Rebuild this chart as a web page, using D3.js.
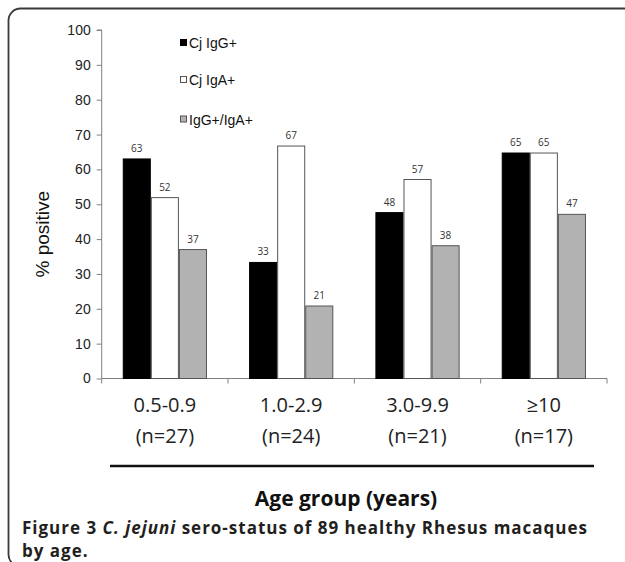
<!DOCTYPE html>
<html>
<head>
<meta charset="utf-8">
<script src="https://cdn.jsdelivr.net/npm/d3@7"></script>
<style>
  html, body { margin: 0; padding: 0; background: #fff; }
  svg { display: block; }
</style>
</head>
<body>
<svg id="chart" width="625" height="562"></svg>
<script>
// ---- data ----
const categories = ["0.5-0.9", "1.0-2.9", "3.0-9.9", "≥10"];
const categoryN = ["(n=27)", "(n=24)", "(n=21)", "(n=17)"];
const seriesNames = ["Cj IgG+", "Cj IgA+", "IgG+/IgA+"];
const igG = [63.0, 33.3, 47.6, 64.7];
const igA = [51.9, 66.7, 57.1, 64.7];
const both = [37.0, 20.8, 38.1, 47.1];
const yTicks = [0, 10, 20, 30, 40, 50, 60, 70, 80, 90, 100];
const yTitle = "% positive";
const xTitle = "Age group (years)";

const seriesValues = [igG, igA, both];
const fills = ["#000000", "#ffffff", "#b2b2b2"];
const strokes = ["#000000", "#555555", "#555555"];

const svg = d3.select("#chart");

// frame
svg.append("rect")
  .attr("x", 8.5).attr("y", 8.5)
  .attr("width", 700).attr("height", 558)
  .attr("rx", 12).attr("ry", 12)
  .attr("fill", "none").attr("stroke", "#3a3a3a").attr("stroke-width", 1.8);

// scales
const x = d3.scaleBand().domain(categories).range([101.7, 607]).paddingInner(0).paddingOuter(0);
const bw = x.bandwidth();
const gap = bw / 6;
const xs = d3.scaleBand().domain(seriesNames).range([gap, bw - gap]).padding(0);
const y = d3.scaleLinear().domain([0, 100]).range([378.5, 30]);

// y axis
const yAxis = d3.axisLeft(y).tickValues(yTicks).tickSize(5).tickPadding(6);
const gy = svg.append("g").attr("transform", "translate(101.7,0)").call(yAxis);
gy.select(".domain").attr("stroke", "#808080").attr("d", `M-5,${y(100)}H0V${y(0) + 5}`);
gy.selectAll(".tick line").attr("stroke", "#808080");
gy.selectAll(".tick text")
  .attr("font-family", "Liberation Sans, Arial, sans-serif")
  .attr("font-size", 14).attr("fill", "#222");

// x axis
const xAxis = d3.axisBottom(x).tickValues([]).tickSize(0);
const gx = svg.append("g").attr("transform", `translate(0,${y(0)})`).call(xAxis);
gx.select(".domain").attr("stroke", "#808080").attr("d", `M101.7,0H607`);
const boundaries = categories.map(c => x(c) + bw);
gx.selectAll("line.bt").data(boundaries).enter().append("line")
  .attr("class", "bt")
  .attr("x1", d => d).attr("x2", d => d)
  .attr("y1", 0).attr("y2", 5)
  .attr("stroke", "#808080");

// bars
const rows = [];
categories.forEach((c, i) => {
  seriesNames.forEach((s, j) => {
    rows.push({ cat: c, s: s, j: j, v: seriesValues[j][i] });
  });
});

const bars = svg.append("g");
bars.selectAll("rect").data(rows).enter().append("rect")
  .attr("x", d => x(d.cat) + xs(d.s) + 0.5)
  .attr("y", d => y(d.v))
  .attr("width", xs.bandwidth() - 1)
  .attr("height", d => y(0) - y(d.v))
  .attr("fill", d => fills[d.j])
  .attr("stroke", d => strokes[d.j])
  .attr("stroke-width", 1);

// data labels
svg.append("g").selectAll("text").data(rows).enter().append("text")
  .attr("x", d => x(d.cat) + xs(d.s) + xs.bandwidth() / 2)
  .attr("y", d => y(d.v) - 7)
  .attr("text-anchor", "middle")
  .attr("font-family", "Open Sans, sans-serif")
  .attr("font-size", 10)
  .attr("fill", "#333")
  .text(d => Math.round(d.v));

// y title
svg.append("text")
  .attr("transform", `translate(49,${(y(0) + y(100)) / 2 + 30}) rotate(-90)`)
  .attr("text-anchor", "middle")
  .attr("font-family", "Liberation Sans, Arial, sans-serif")
  .attr("font-size", 19)
  .attr("fill", "#111")
  .text(yTitle);

// legend
const legendY = [43, 80, 119.5];
const lg = svg.append("g");
seriesNames.forEach((s, j) => {
  lg.append("rect")
    .attr("x", 180.5).attr("y", legendY[j] - 3.5)
    .attr("width", 6).attr("height", 6)
    .attr("fill", fills[j]).attr("stroke", strokes[j]).attr("stroke-width", 1);
  lg.append("text")
    .attr("x", 189).attr("y", legendY[j] + 5)
    .attr("font-family", "Liberation Sans, Arial, sans-serif")
    .attr("font-size", 14).attr("fill", "#111")
    .text(s);
});

// category labels
const cl = svg.append("g")
  .attr("font-family", "Open Sans, sans-serif")
  .attr("font-size", 20).attr("fill", "#222").attr("text-anchor", "middle");
categories.forEach((c, i) => {
  const cx = x(c) + bw / 2;
  cl.append("text").attr("x", cx).attr("y", 412).text(c);
  cl.append("text").attr("x", cx).attr("y", 443).text(categoryN[i]);
});

// separator line
svg.append("line")
  .attr("x1", 110).attr("x2", 594)
  .attr("y1", 466).attr("y2", 466)
  .attr("stroke", "#111").attr("stroke-width", 2.4);

// x title
svg.append("text")
  .attr("x", 346).attr("y", 506)
  .attr("text-anchor", "middle")
  .attr("font-family", "Open Sans, sans-serif")
  .attr("font-weight", "bold")
  .attr("font-size", 21).attr("fill", "#111")
  .text(xTitle);

// caption
const capSize = 17;
const cap = svg.append("text")
  .attr("x", 22).attr("y", 534)
  .attr("font-family", "Open Sans, sans-serif")
  .attr("font-weight", "bold")
  .attr("font-size", capSize).attr("fill", "#231f20");
cap.append("tspan").text("Figure 3 ");
cap.append("tspan").attr("font-style", "italic").text("C. jejuni");
cap.append("tspan").text(" sero-status of 89 healthy Rhesus macaques");
const capText = "Figure 3 C. jejuni sero-status of 89 healthy Rhesus macaques";
const capW = cap.node().getComputedTextLength();
const ls = Math.max(0, (565 - capW) / (capText.length - 1));
cap.attr("letter-spacing", ls);
svg.append("text")
  .attr("x", 22).attr("y", 557)
  .attr("font-family", "Open Sans, sans-serif")
  .attr("font-weight", "bold")
  .attr("letter-spacing", ls)
  .attr("font-size", capSize).attr("fill", "#231f20")
  .text("by age.");
</script>
</body>
</html>
